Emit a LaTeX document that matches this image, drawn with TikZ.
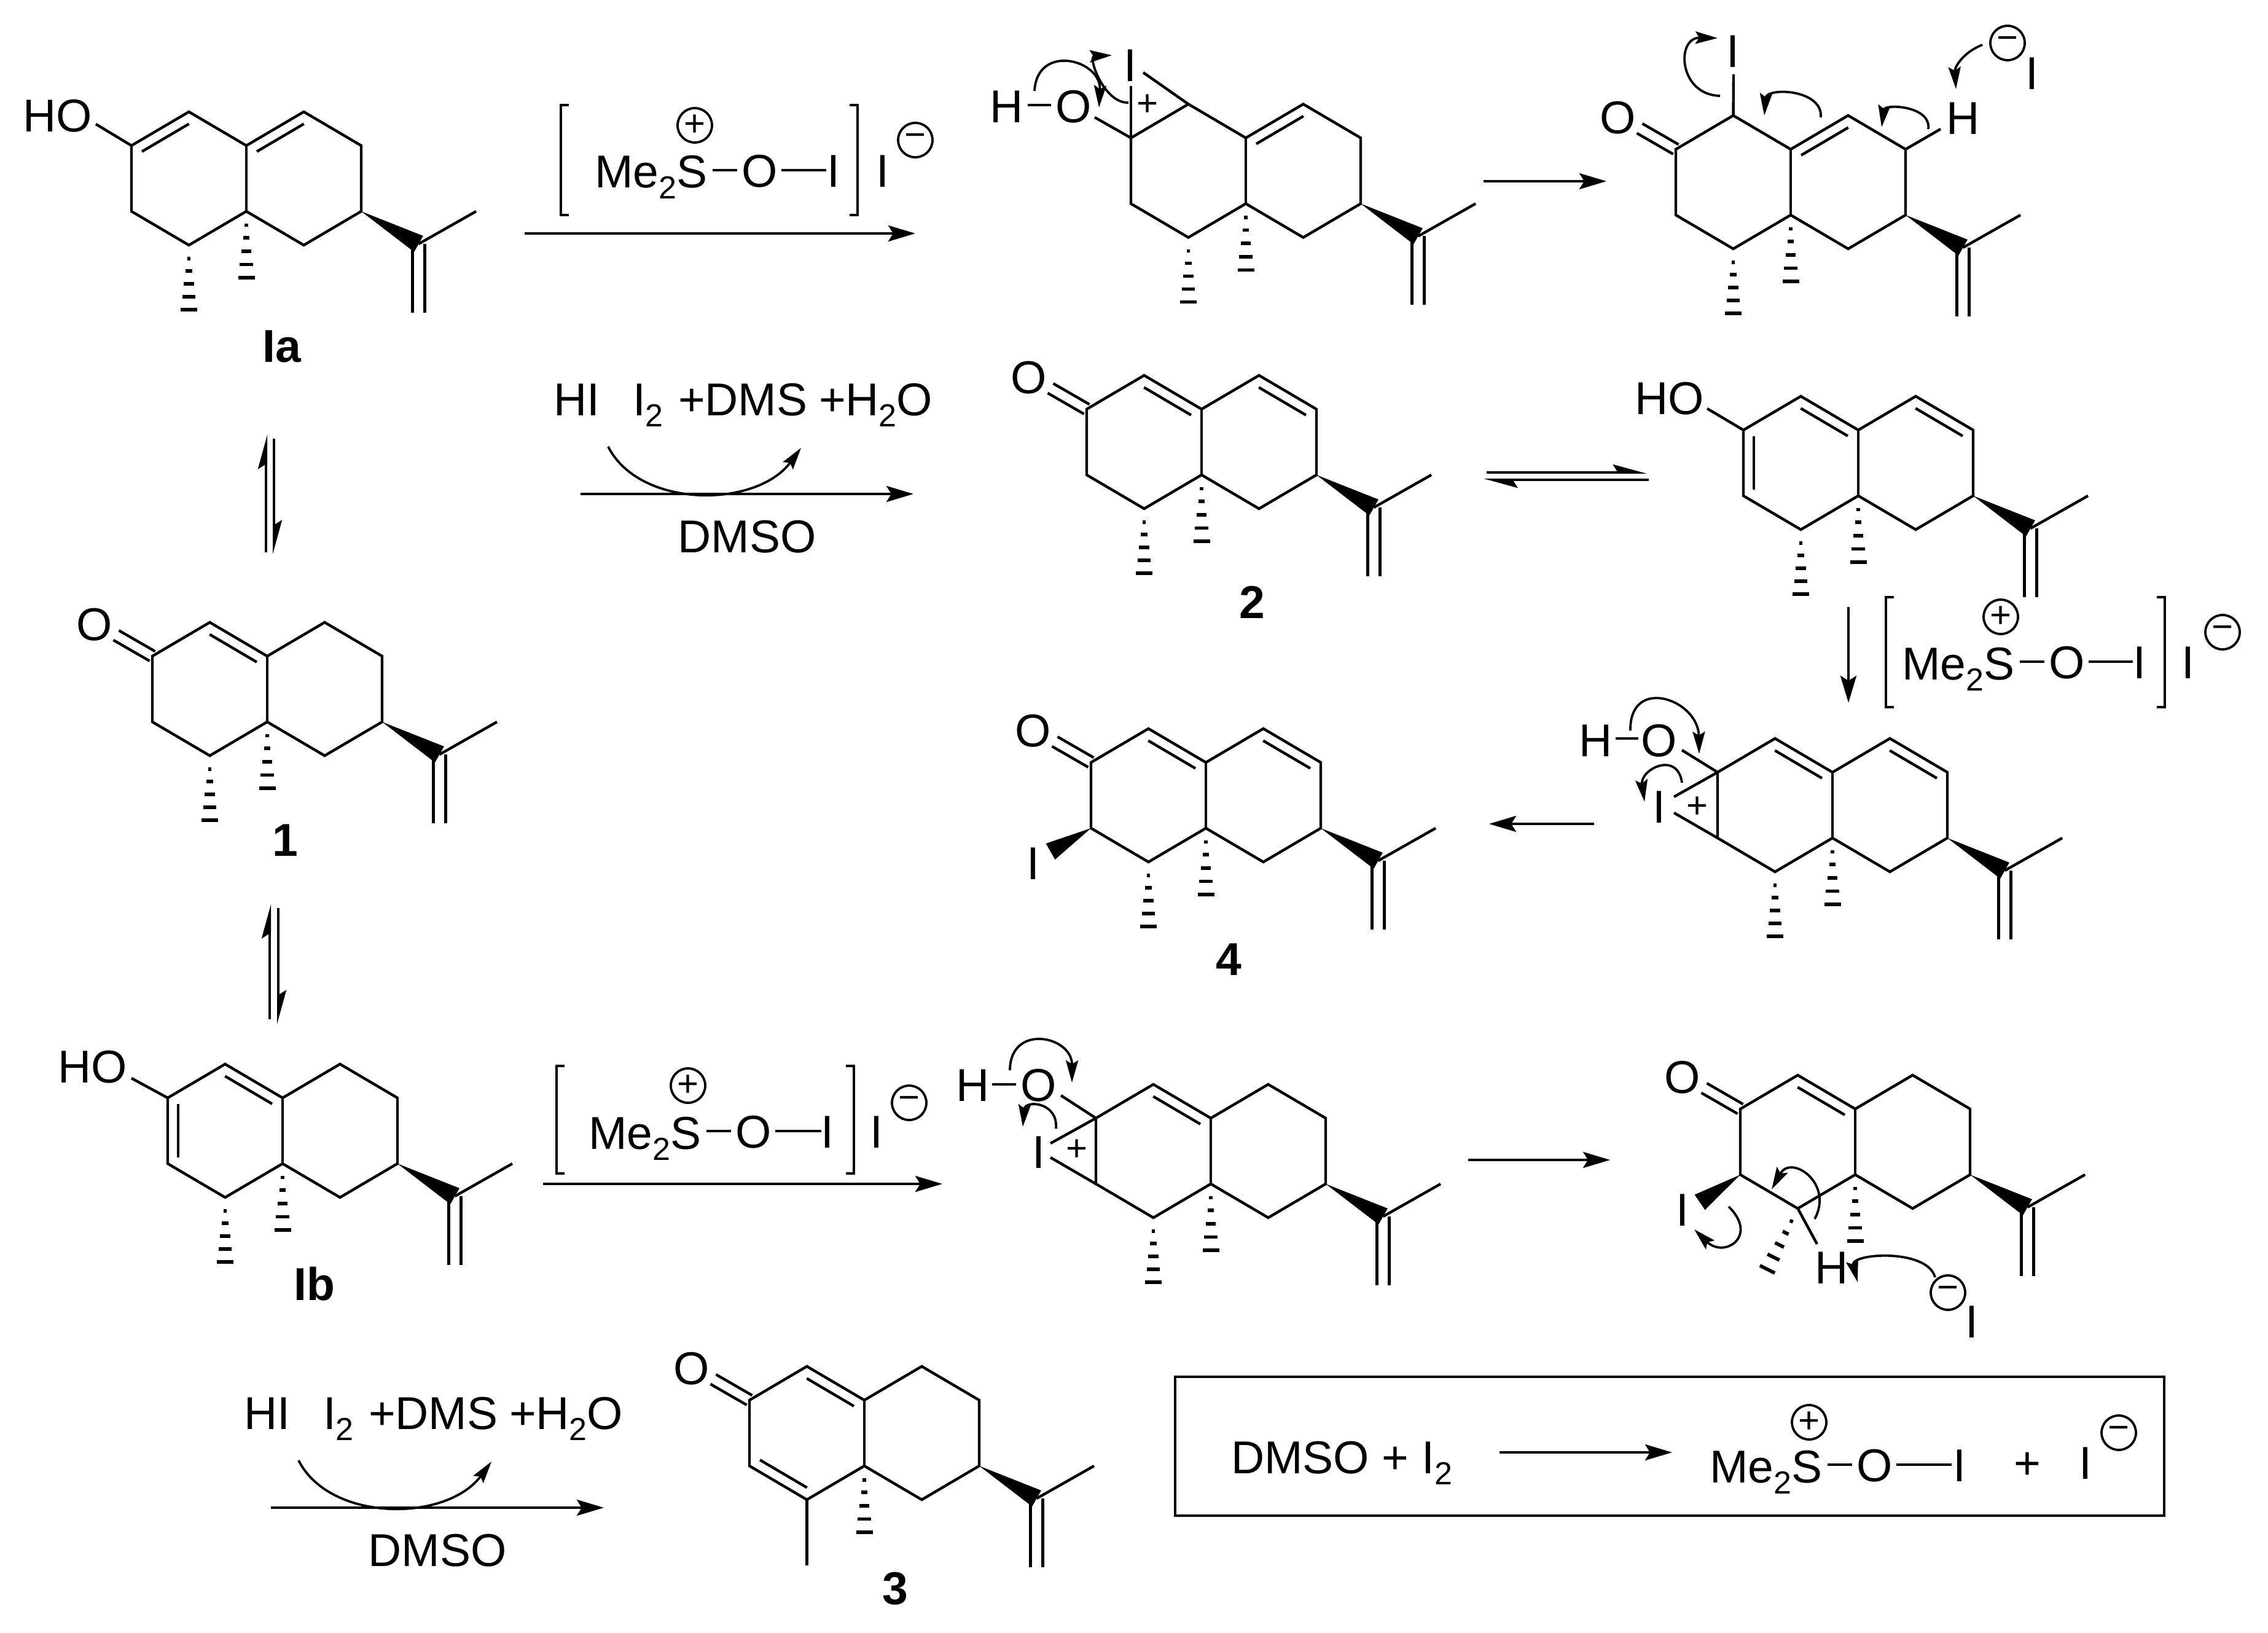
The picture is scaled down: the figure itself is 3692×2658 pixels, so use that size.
\documentclass[tikz,border=0pt]{standalone}
\usepackage{fontspec}
\setmainfont{Liberation Sans}
\usetikzlibrary{calc,arrows.meta}
\tikzset{
  bond/.style={line width=2.2pt,line join=miter,line cap=butt},
  rarrow/.style={line width=2.2pt,-{Stealth[length=22pt,width=13pt,inset=4pt]}},
  harp/.style={line width=2pt,-{Stealth[harpoon,length=24pt,width=13pt,inset=4pt]}},
  carrow/.style={line width=1.9pt,-{Stealth[length=18pt,width=10pt,inset=3pt]}},
  atom/.style={inner sep=0pt,outer sep=0pt,font=\fontsize{37.5}{38}\selectfont},
  cmpd/.style={inner sep=0pt,outer sep=0pt,font=\fontsize{37.5}{38}\selectfont\bfseries},
  txt/.style={inner sep=0pt,outer sep=0pt,anchor=base west,font=\fontsize{37.5}{38}\selectfont},
  chgc/.style={circle,draw,line width=1.9pt,minimum size=28pt,inner sep=0pt,font=\fontsize{30}{30}\selectfont},
  plusm/.style={inner sep=0pt,font=\fontsize{30}{30}\selectfont}
}
\newcommand\subtwo{\raisebox{-9pt}{\fontsize{26}{26}\selectfont 2}}
% parallel pair of lines
\newcommand\dbls[3]{\draw[bond] ($(#1)!#3!90:(#2)$) -- ($(#2)!#3!-90:(#1)$);
  \draw[bond] ($(#1)!#3!-90:(#2)$) -- ($(#2)!#3!90:(#1)$);}
% inner line of a ring double bond
\newcommand\dbl[2]{\draw[bond] ($(#1)!.09!(#2)!8.5pt!-90:(#2)$) -- ($(#2)!.09!(#1)!8.5pt!90:(#1)$);}
% hashed bond
\newcommand\hashb[2]{%
  \coordinate (hL) at ($(#2)!6.75pt!90:(#1)$);
  \coordinate (hR) at ($(#2)!6.75pt!-90:(#1)$);
  \foreach \t in {.21,.40,.60,.80,1}{\draw[line width=2.8pt] ($(#1)!\t!(hL)$) -- ($(#1)!\t!(hR)$);}}
\newcommand\wedgeb[2]{\fill ($(#1)$) -- ($(#2)!7.5pt!90:(#1)$) -- ($(#2)!7.5pt!-90:(#1)$) -- cycle;}
% decalin skeleton with isopropenyl group; J = upper ring-fusion atom
\newcommand\skel[3]{%
  \coordinate (#1J) at (#2,-#3);
  \coordinate (#1a1) at ($(#1J)+(-187,0)$);
  \coordinate (#1a2) at ($(#1J)+(-93.5,55)$);
  \coordinate (#1b2) at ($(#1J)+(93.5,55)$);
  \coordinate (#1b3) at ($(#1J)+(187,0)$);
  \coordinate (#1b4) at ($(#1J)+(187,-107)$);
  \coordinate (#1b5) at ($(#1J)+(93.5,-162)$);
  \coordinate (#1K) at ($(#1J)+(0,-107)$);
  \coordinate (#1a5) at ($(#1J)+(-93.5,-162)$);
  \coordinate (#1a6) at ($(#1J)+(-187,-107)$);
  \coordinate (#1C) at ($(#1J)+(280.5,-160)$);
  \coordinate (#1Me) at ($(#1J)+(374,-107)$);
  \coordinate (#1CH) at ($(#1J)+(280.5,-272)$);
  \coordinate (#1Kh) at ($(#1K)+(0,-108)$);
  \coordinate (#1ah) at ($(#1a5)+(0,-105)$);
  \draw[bond] (#1a1)--(#1a2)--(#1J)--(#1b2)--(#1b3)--(#1b4)--(#1b5)--(#1K)--(#1a5)--(#1a6)--cycle;
  \draw[bond] (#1J)--(#1K);
  \draw[bond] (#1C)--(#1Me);
  \dbls{#1C}{#1CH}{5pt}
  \wedgeb{#1b4}{#1C}
  \hashb{#1K}{#1Kh}}
% ketone on a1
\newcommand\keto[1]{%
  \node[atom] (#1O) at ($(#1a1)+(-94,51)$) {O};
  \coordinate (#1Oe) at ($(#1a1)+(-59,34)$);
  \dbls{#1a1}{#1Oe}{4.5pt}}
% curved arrow through a middle point, round form
\newcommand\curv[6]{\draw[carrow] (#1,-#2) .. controls ($.333*(#1,-#2)+1.333*(#3,-#4)-.667*(#5,-#6)$) and ($.333*(#5,-#6)+1.333*(#3,-#4)-.667*(#1,-#2)$) .. (#5,-#6);}
% curved arrow, parabolic form
\newcommand\curvq[6]{\coordinate (qP) at ($2*(#3,-#4)-.5*(#1,-#2)-.5*(#5,-#6)$);
  \draw[carrow] (#1,-#2) .. controls ($(#1,-#2)!.667!(qP)$) and ($(#5,-#6)!.667!(qP)$) .. (#5,-#6);}
% reaction arrow between named points
\newcommand\rxn[5]{\coordinate (#1s) at (#2,-#3); \coordinate (#1e) at (#4,-#5); \draw[rarrow] (#1s) -- (#1e);}
% Me2S-O-I ; #2 left of Me, #3 baseline, #4 = I offset, #5 line end
\newcommand\sulf[5]{%
  \node[txt] (#1me) at ($(#2,-#3)+(-4,0)$) {Me\subtwo S};
  \node[atom] (#1o) at ($(#2,-#3)+(265,27)$) {O};
  \node[atom] (#1i) at ($(#2,-#3)+(#4,27)$) {I};
  \coordinate (#1d1) at ($(#2,-#3)+(188,29)$);
  \coordinate (#1d2) at ($(#2,-#3)+(228,29)$);
  \coordinate (#1d3) at ($(#2,-#3)+(300,29)$);
  \coordinate (#1d4) at ($(#2,-#3)+(#5,29)$);
  \draw[bond] (#1d1)--(#1d2);
  \draw[bond] (#1d3)--(#1d4);}
\newcommand\brackets[4]{% x1 x2 y1 y2
  \draw[bond] (#1+13,-#3) -- (#1,-#3) -- (#1,-#4) -- (#1+13,-#4);
  \draw[bond] (#2-13,-#3) -- (#2,-#3) -- (#2,-#4) -- (#2-13,-#4);}
% HI / I2 + DMS + H2O over an arrow, DMSO below; #2,#3 = left, baseline of HI
\newcommand\reag[3]{%
  \node[txt] (#1hi) at (#2,-#3) {HI};
  \node[txt] (#1ii) at ($(#2,-#3)+(129,0)$) {I\subtwo};
  \node[txt] (#1dms) at ($(#2,-#3)+(203,0)$) {+DMS};
  \node[txt] (#1wat) at ($(#2,-#3)+(432,0)$) {+H\subtwo O};
  \node[atom] (#1dmso) at ($(#2,-#3)+(315,-198)$) {DMSO};
  \coordinate (#1as) at ($(#2,-#3)+(44,-128)$);
  \coordinate (#1ae) at ($(#2,-#3)+(586,-128)$);
  \draw[rarrow] (#1as) -- (#1ae);
  \coordinate (#1cs) at ($(#2,-#3)+(89,-51)$);
  \coordinate (#1ce) at ($(#2,-#3)+(403,-53)$);
  \draw[carrow] (#1cs) .. controls ($(#2,-#3)+(140,-152)$) and ($(#2,-#3)+(330,-152)$) .. (#1ce);}
\begin{document}
\begin{tikzpicture}[x=.5pt,y=.5pt]
\useasboundingbox (0,0) rectangle (3692,-2658);
\fill[white] (0,0) rectangle (3692,-2658);

%%% Ia
\skel{A}{401}{237}
\hashb{Aa5}{Aah}
\dbl{Aa1}{Aa2}\dbl{AJ}{Ab2}
\node[atom] (Aho) at (94,-189) {HO};
\coordinate (Ahoe) at (156,-202);
\draw[bond] (Ahoe)--(Aa1);
\node[cmpd] (Ia) at (459,-564) {Ia};

%%% reagent top
\brackets{913}{1396}{171}{350}
\sulf{ra}{972}{306}{385}{373}
\node[chgc] (rap) at (1131,-204) {+};
\node[atom] (rai) at (1437,-279) {I};
\node[chgc] (ram) at (1490,-228) {−};
\rxn{ra}{854}{380}{1490}{380}

%%% top middle
\skel{B}{2028}{224.5}
\hashb{Ba5}{Bah}
\dbl{BJ}{Bb2}
\node[atom] (Bh) at (1639,-174) {H};
\node[atom] (Bo) at (1748,-174) {O};
\node[atom] (Bi) at (1840,-107) {I};
\node[plusm] (Bp) at (1868,-171) {+};
\coordinate (Bd1) at (1673,-171); \coordinate (Bd2) at (1711,-171);
\draw[bond] (Bd1)--(Bd2);
\coordinate (Bo1) at (1782,-191);
\draw[bond] (Bo1)--(Ba1);
\coordinate (Bi1) at (1841,-140);
\draw[bond] (Ba1)--(Bi1);
\coordinate (Bi2) at (1861,-118);
\draw[bond] (Ba2)--(Bi2);
\curv{1684}{148}{1741}{103}{1789}{175}
\curv{1837}{167}{1795}{130}{1810}{90}
\rxn{rb}{2415}{295}{2615}{295}

%%% top right
\skel{C}{2915}{243}
\hashb{Ca5}{Cah}
\dbl{CJ}{Cb2}
\keto{C}
\node[atom] (Ci) at (2821,-84) {I};
\coordinate (Ci1) at (2822,-121);
\draw[bond] (Ca2)--(Ci1);
\node[atom] (Ch) at (3196,-193) {H};
\coordinate (Ch1) at (3159,-210);
\draw[bond] (Cb3)--(Ch1);
\node[atom] (Ci2) at (3308,-120) {I};
\node[chgc] (Cm) at (3268,-70) {−};
\curv{2800}{156}{2749}{108}{2796}{62}
\curv{2964}{191}{2923}{155}{2872}{188}
\curv{3139}{210}{3107}{180}{3063}{207}
\curvq{3227}{73}{3193}{100}{3184}{145}

%%% reagents -> 2
\reag{rc}{901}{676}
\skel{D}{1956}{666}
\hashb{Da5}{Dah}
\dbl{Da2}{DJ}\dbl{Db2}{Db3}
\keto{D}
\node[cmpd] (n2) at (2038,-980) {2};
\coordinate (e1s) at (2420,-769); \coordinate (e1e) at (2681,-769);
\coordinate (e2s) at (2684,-781); \coordinate (e2e) at (2415,-781);
\draw[harp] (e1s)--(e1e);
\draw[harp] (e2s)--(e2e);

%%% dienol
\skel{E}{3025}{700}
\hashb{Ea5}{Eah}
\dbl{Ea2}{EJ}\dbl{Eb2}{Eb3}\dbl{Ea6}{Ea1}
\node[atom] (Eho) at (2718,-649) {HO};
\coordinate (Ehoe) at (2779,-665);
\draw[bond] (Ehoe)--(Ea1);
\rxn{rd}{3009}{988}{3009}{1144}
\brackets{3070}{3524}{972}{1151}
\sulf{re}{3100}{1106}{383}{372}
\node[chgc] (rep) at (3257,-1004) {+};
\node[atom] (rei) at (3562,-1079) {I};
\node[chgc] (rem) at (3618,-1029) {−};

%%% 1
\skel{F}{435}{1068}
\hashb{Fa5}{Fah}
\dbl{Fa2}{FJ}
\keto{F}
\node[cmpd] (n1) at (464,-1368) {1};
\coordinate (e3s) at (433,-899); \coordinate (e3e) at (433,-708);
\coordinate (e4s) at (446,-714); \coordinate (e4e) at (446,-902);
\draw[harp] (e3s)--(e3e);
\draw[harp] (e4s)--(e4e);
\coordinate (e5s) at (439,-1659); \coordinate (e5e) at (439,-1472);
\coordinate (e6s) at (453,-1478); \coordinate (e6e) at (453,-1667);
\draw[harp] (e5s)--(e5e);
\draw[harp] (e6s)--(e6e);

%%% 4
\skel{G}{1963}{1241}
\hashb{Ga5}{Gah}
\dbl{Ga2}{GJ}\dbl{Gb2}{Gb3}
\keto{G}
\node[atom] (Gi) at (1682,-1406) {I};
\coordinate (Gw) at (1710,-1386);
\wedgeb{Ga6}{Gw}
\node[cmpd] (n4) at (2000,-1562) {4};
\rxn{rf}{2595}{1341}{2424}{1341}

%%% iodonium right
\skel{H}{2983}{1257}
\hashb{Ha5}{Hah}
\dbl{Ha2}{HJ}\dbl{Hb2}{Hb3}
\node[atom] (Hh) at (2598,-1206) {H};
\node[atom] (Ho) at (2701,-1206) {O};
\node[atom] (Hi) at (2701,-1314) {I};
\node[plusm] (Hp) at (2763,-1314) {+};
\coordinate (Hd1) at (2630,-1202); \coordinate (Hd2) at (2667,-1202);
\draw[bond] (Hd1)--(Hd2);
\coordinate (Ho1) at (2738,-1221);
\draw[bond] (Ho1)--(Ha1);
\coordinate (Hi1) at (2725,-1297); \coordinate (Hi2) at (2725,-1323);
\draw[bond] (Ha1)--(Hi1);
\draw[bond] (Ha6)--(Hi2);
\curv{2654}{1189}{2711}{1142}{2766}{1227}
\curv{2738}{1274}{2704}{1251}{2677}{1305}

%%% Ib
\skel{I}{460}{1787}
\hashb{Ia5}{Iah}
\dbl{Ia2}{IJ}\dbl{Ia6}{Ia1}
\node[atom] (Iho) at (151,-1737) {HO};
\coordinate (Ihoe) at (214,-1755);
\draw[bond] (Ihoe)--(Ia1);
\node[cmpd] (Ib) at (512,-2090) {Ib};
\brackets{906}{1390}{1735}{1910}
\sulf{rg}{962}{1870}{385}{375}
\node[chgc] (rgp) at (1120,-1767) {+};
\node[atom] (rgi) at (1427,-1843) {I};
\node[chgc] (rgm) at (1480,-1795) {−};
\rxn{rg}{884}{1927}{1534}{1927}

%%% iodonium lower
\skel{K}{1971}{1820}
\hashb{Ka5}{Kah}
\dbl{Ka2}{KJ}
\node[atom] (Kh) at (1584,-1767) {H};
\node[atom] (Ko) at (1691,-1767) {O};
\node[atom] (Ki) at (1691,-1876) {I};
\node[plusm] (Kp) at (1753,-1872) {+};
\coordinate (Kd1) at (1615,-1765); \coordinate (Kd2) at (1654,-1765);
\draw[bond] (Kd1)--(Kd2);
\coordinate (Ko1) at (1727,-1783);
\draw[bond] (Ko1)--(Ka1);
\coordinate (Ki1) at (1710,-1861); \coordinate (Ki2) at (1710,-1884);
\draw[bond] (Ka1)--(Ki1);
\draw[bond] (Ka6)--(Ki2);
\curv{1644}{1742}{1696}{1696}{1745}{1762}
\curv{1719}{1837}{1696}{1804}{1665}{1834}
\rxn{rh}{2390}{1888}{2621}{1888}

%%% lower right
\skel{L}{3020}{1805}
\dbl{La2}{LJ}
\keto{L}
\node[atom] (Li) at (2739,-1970) {I};
\coordinate (Lw) at (2767,-1957);
\wedgeb{La6}{Lw}
\coordinate (Lm) at (2877,-2066);
\hashb{La5}{Lm}
\node[atom] (Lh) at (2982,-2064) {H};
\coordinate (Lh1) at (2958,-2025);
\draw[bond] (La5)--(Lh1);
\node[chgc] (Lc) at (3171,-2104) {−};
\node[atom] (Li2) at (3210,-2152) {I};
\curv{3150}{2079}{3080}{2049}{3024}{2087}
\curv{2954}{1984}{2945}{1918}{2884}{1936}
\curv{2814}{1964}{2825}{2020}{2758}{2001}

%%% bottom reagents and 3
\reag{ri}{397}{2326}
\skel{M}{1407}{2279}
\dbl{Ma2}{MJ}\dbl{Ma5}{Ma6}
\keto{M}
\coordinate (Mm) at ($(Ma5)+(0,-107)$);
\draw[bond] (Ma5)--(Mm);
\node[cmpd] (n3) at (1457,-2586) {3};

%%% box
\node[draw,line width=2.2pt,inner sep=0pt,minimum width=805pt,minimum height=113pt,anchor=north west] (box) at (1911,-2239) {};
\node[txt] (bdm) at (2004,-2398) {DMSO + I\subtwo};
\rxn{rj}{2441}{2364}{2722}{2364}
\sulf{rk}{2787}{2413}{403}{390}
\node[chgc] (rkp) at (2945,-2315) {+};
\node[atom] (rkq) at (3300,-2386) {+};
\node[atom] (rki) at (3395,-2382) {I};
\node[chgc] (rkm) at (3449,-2332) {−};
\end{tikzpicture}
\end{document}
